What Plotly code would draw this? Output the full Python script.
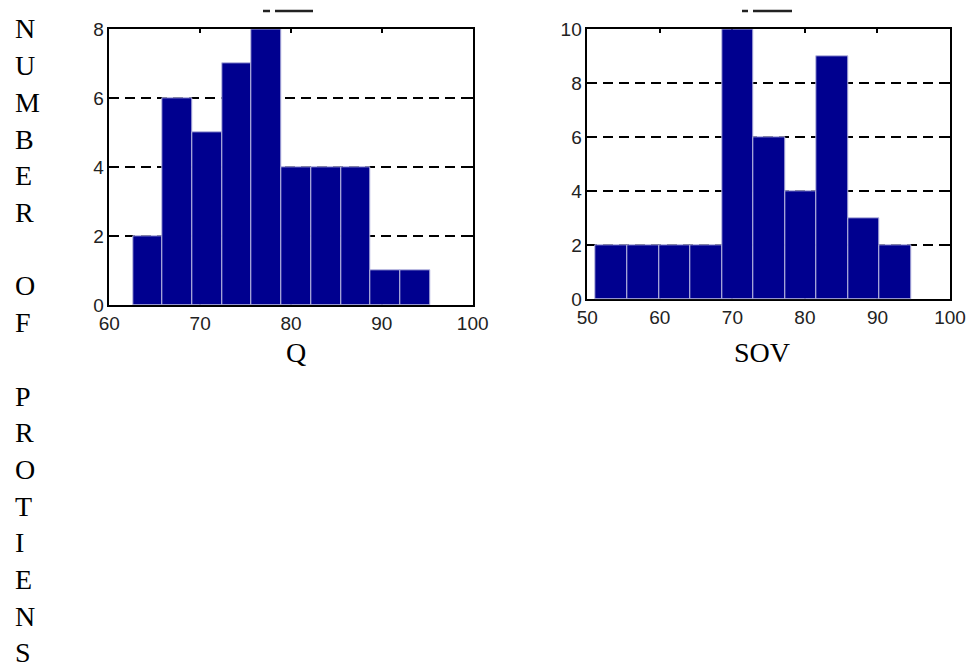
import plotly.graph_objects as go

# ---- data ----
q_edges = [62.6, 65.87, 69.14, 72.41, 75.68, 78.95, 82.22, 85.49, 88.76, 92.03, 95.3]
q_counts = [2, 6, 5, 7, 8, 4, 4, 4, 1, 1]
sov_edges = [51.16, 55.51, 59.86, 64.21, 68.56, 72.91, 77.26, 81.61, 85.96, 90.31, 94.66]
sov_counts = [2, 2, 2, 2, 10, 6, 4, 9, 3, 2]
q_xticks = [60, 70, 80, 90, 100]
q_yticks = [0, 2, 4, 6, 8]
sov_xticks = [50, 60, 70, 80, 90, 100]
sov_yticks = [0, 2, 4, 6, 8, 10]
y_title = "NUMBER OF PROTIENS"
x_titles = ["Q", "SOV"]

W, H = 970, 664
BAR = "#00008F"
EDGE = "#b8b8e0"


def centers(edges):
    return [(a + b) / 2 for a, b in zip(edges[:-1], edges[1:])]


def widths(edges):
    return [b - a for a, b in zip(edges[:-1], edges[1:])]


fig = go.Figure()
fig.add_trace(go.Bar(x=centers(q_edges), y=q_counts, width=widths(q_edges),
                     marker=dict(color=BAR, line=dict(color=EDGE, width=1)),
                     xaxis="x", yaxis="y", showlegend=False))
fig.add_trace(go.Bar(x=centers(sov_edges), y=sov_counts, width=widths(sov_edges),
                     marker=dict(color=BAR, line=dict(color=EDGE, width=1)),
                     xaxis="x2", yaxis="y2", showlegend=False))

tickfont = dict(family="Liberation Sans, Arial", size=19, color="#222")
common = dict(showline=True, linecolor="black", linewidth=1.5, mirror="allticks",
              ticks="inside", ticklen=4, tickcolor="black", tickwidth=1.5,
              zeroline=False, layer="below traces", tickfont=tickfont, fixedrange=True)


def px2x(px):
    return px / W


def py2y(py):
    return 1 - py / H


fig.update_layout(
    width=W, height=H, margin=dict(l=0, r=0, t=0, b=0, autoexpand=False),
    paper_bgcolor="white", plot_bgcolor="white", bargap=0,
    xaxis=dict(domain=[px2x(109.3), px2x(472.7)], range=[60, 100], tickvals=q_xticks,
               anchor="y", showgrid=False, **common),
    yaxis=dict(domain=[py2y(305), py2y(29.3)], range=[0, 8], tickvals=q_yticks,
               anchor="x", showgrid=True, gridcolor="black", gridwidth=1.5,
               griddash="10px,6px", **common),
    xaxis2=dict(domain=[px2x(587.3), px2x(950)], range=[50, 100], tickvals=sov_xticks,
                anchor="y2", showgrid=False, **common),
    yaxis2=dict(domain=[py2y(299.3), py2y(29.3)], range=[0, 10], tickvals=sov_yticks,
                anchor="x2", showgrid=True, gridcolor="black", gridwidth=1.5,
                griddash="10px,6px", **common),
)

serif = dict(family="Liberation Serif, Times New Roman", size=28, color="black")
annotations = []
# stacked vertical title
for i, ch in enumerate(y_title):
    if ch == " ":
        continue
    annotations.append(dict(text=ch, x=px2x(13), y=py2y(29 + i * 36.7), xref="paper",
                            yref="paper", xanchor="left", yanchor="middle",
                            showarrow=False, font=serif))
annotations.append(dict(text=x_titles[0], x=px2x(296), y=py2y(352), xref="paper", yref="paper",
                        xanchor="center", yanchor="middle", showarrow=False, font=serif))
annotations.append(dict(text=x_titles[1], x=px2x(762), y=py2y(352), xref="paper", yref="paper",
                        xanchor="center", yanchor="middle", showarrow=False, font=serif))
fig.update_layout(annotations=annotations)

# clipped title fragments at top of each panel
shapes = []
for a, b, c, d in [(263, 270, 275, 313), (742, 748, 753, 792)]:
    shapes.append(dict(type="line", xref="paper", yref="paper", x0=px2x(a), x1=px2x(b),
                       y0=py2y(11), y1=py2y(11), line=dict(color="#222", width=2.5)))
    shapes.append(dict(type="line", xref="paper", yref="paper", x0=px2x(c), x1=px2x(d),
                       y0=py2y(11), y1=py2y(11), line=dict(color="#222", width=2.5)))
fig.update_layout(shapes=shapes)

fig.write_html("out.html", config={"displayModeBar": False},
               post_script="document.body.style.margin='0px';document.body.style.overflow='hidden';")
